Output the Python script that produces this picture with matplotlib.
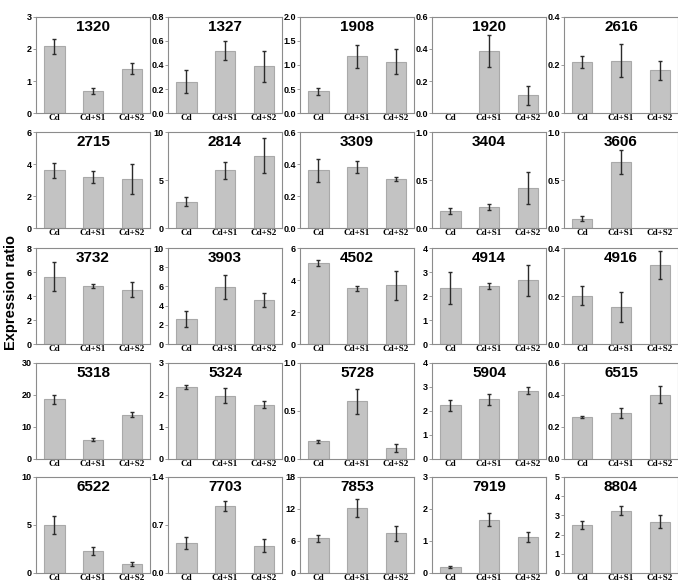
import matplotlib
matplotlib.use('Agg')
import matplotlib.pyplot as plt
import numpy as np

TREATMENTS = ['Cd', 'Cd+S1', 'Cd+S2']

GENES = ['1320', '1327', '1908', '1920', '2616',
         '2715', '2814', '3309', '3404', '3606',
         '3732', '3903', '4502', '4914', '4916',
         '5318', '5324', '5728', '5904', '6515',
         '6522', '7703', '7853', '7919', '8804']

# mean expression ratio per gene: Cd, Cd+S1, Cd+S2
cd_mean = [2.08, 0.26, 0.45, 0.0, 0.213,
           3.6, 2.73, 0.36, 0.18, 0.096,
           5.6, 2.6, 5.07, 2.34, 0.202,
           18.6, 2.25, 0.186, 2.23, 0.263,
           5.02, 0.437, 6.5, 0.18, 2.51]
s1_mean = [0.68, 0.52, 1.18, 0.39, 0.217,
           3.19, 6.0, 0.383, 0.22, 0.684,
           4.83, 5.96, 3.48, 2.43, 0.154,
           6.0, 1.98, 0.6, 2.48, 0.288,
           2.28, 0.977, 12.2, 1.66, 3.25]
s2_mean = [1.38, 0.39, 1.07, 0.11, 0.178,
           3.06, 7.55, 0.306, 0.415, 0.0,
           4.52, 4.56, 3.67, 2.65, 0.329,
           13.9, 1.7, 0.116, 2.85, 0.402,
           0.91, 0.398, 7.45, 1.12, 2.67]

# standard deviations
cd_err = [0.24, 0.095, 0.08, 0.0, 0.025,
          0.49, 0.48, 0.07, 0.03, 0.027,
          1.22, 0.86, 0.19, 0.66, 0.041,
          1.35, 0.05, 0.015, 0.22, 0.004,
          0.95, 0.093, 0.67, 0.037, 0.22]
s1_err = [0.09, 0.08, 0.235, 0.10, 0.069,
          0.37, 0.85, 0.038, 0.03, 0.125,
          0.2, 1.27, 0.17, 0.13, 0.062,
          0.5, 0.23, 0.13, 0.245, 0.033,
          0.42, 0.075, 1.63, 0.2, 0.23]
s2_err = [0.17, 0.13, 0.255, 0.058, 0.04,
          0.92, 1.79, 0.01, 0.17, 0.0,
          0.63, 0.75, 0.92, 0.65, 0.058,
          0.88, 0.115, 0.039, 0.13, 0.052,
          0.23, 0.098, 1.39, 0.16, 0.33]

# y axis range and tick step for each panel
y_max = [3, 0.8, 2.0, 0.6, 0.4,
         6, 10, 0.6, 1.0, 1.0,
         8, 10, 6, 4, 0.4,
         30, 3, 1.0, 4, 0.6,
         10, 1.4, 18, 3, 5]
y_step = [1, 0.2, 0.5, 0.2, 0.2,
          2, 5, 0.2, 0.5, 0.5,
          2, 2, 2, 1, 0.2,
          10, 1, 0.5, 1, 0.2,
          5, 0.7, 6, 1, 1]

BAR_COLOR = '#c3c3c3'
BAR_EDGE = '#a9a9a9'
SPINE_COLOR = '#8c8c8c'


def draw_panels():
    fig = plt.figure(figsize=(6.78, 5.84), dpi=100)
    W, H = 678.0, 584.0
    lefts = [36, 168, 300, 432, 564]
    tops = [17, 132, 248, 363, 477]
    ax_w, ax_h = 114, 96
    x = np.arange(len(TREATMENTS))

    for i, gene in enumerate(GENES):
        row, col = divmod(i, 5)
        ax = fig.add_axes([lefts[col] / W, 1 - (tops[row] + ax_h) / H, ax_w / W, ax_h / H])

        means = [cd_mean[i], s1_mean[i], s2_mean[i]]
        errs = [cd_err[i], s1_err[i], s2_err[i]]
        ax.bar(x, means, width=0.52, color=BAR_COLOR, edgecolor=BAR_EDGE, linewidth=0.8, zorder=2)
        # skip error bars where no value was measured
        for xi, m, e in zip(x, means, errs):
            if m > 0:
                ax.errorbar(xi, m, yerr=e, fmt='none', ecolor='#2b2b2b', elinewidth=1.0,
                            capsize=1.6, capthick=1.0, zorder=3)

        ax.set_xlim(-0.48, 2.48)
        ax.set_ylim(0, y_max[i])
        ticks = np.arange(0, y_max[i] + y_step[i] / 2, y_step[i])
        ax.set_yticks(ticks)
        if y_step[i] < 1:
            ax.set_yticklabels(['%.1f' % t for t in ticks])
        else:
            ax.set_yticklabels(['%d' % t for t in ticks])
        for lab in ax.get_yticklabels():
            lab.set_fontfamily('Liberation Sans')
            lab.set_fontweight('bold')
            lab.set_fontsize(6.5)

        ax.set_xticks(x)
        ax.set_xticklabels(TREATMENTS, fontfamily='Liberation Serif', fontweight='bold', fontsize=6.5)
        ax.tick_params(axis='x', length=0, pad=0.5)
        ax.tick_params(axis='y', length=2, width=0.6, pad=1, color=SPINE_COLOR)

        for sp in ax.spines.values():
            sp.set_color(SPINE_COLOR)
            sp.set_linewidth(0.8)

        ax.text(0.5, 0.9, gene, transform=ax.transAxes, ha='center', va='center',
                fontfamily='Liberation Sans', fontweight='bold', fontsize=11)

    fig.text(11 / W, 1 - 292 / H, 'Expression ratio', rotation=90, ha='center', va='center',
             fontfamily='Liberation Sans', fontweight='bold', fontsize=10.5)

    fig.savefig('out.png', dpi=100)


if __name__ == "__main__":
    draw_panels()
